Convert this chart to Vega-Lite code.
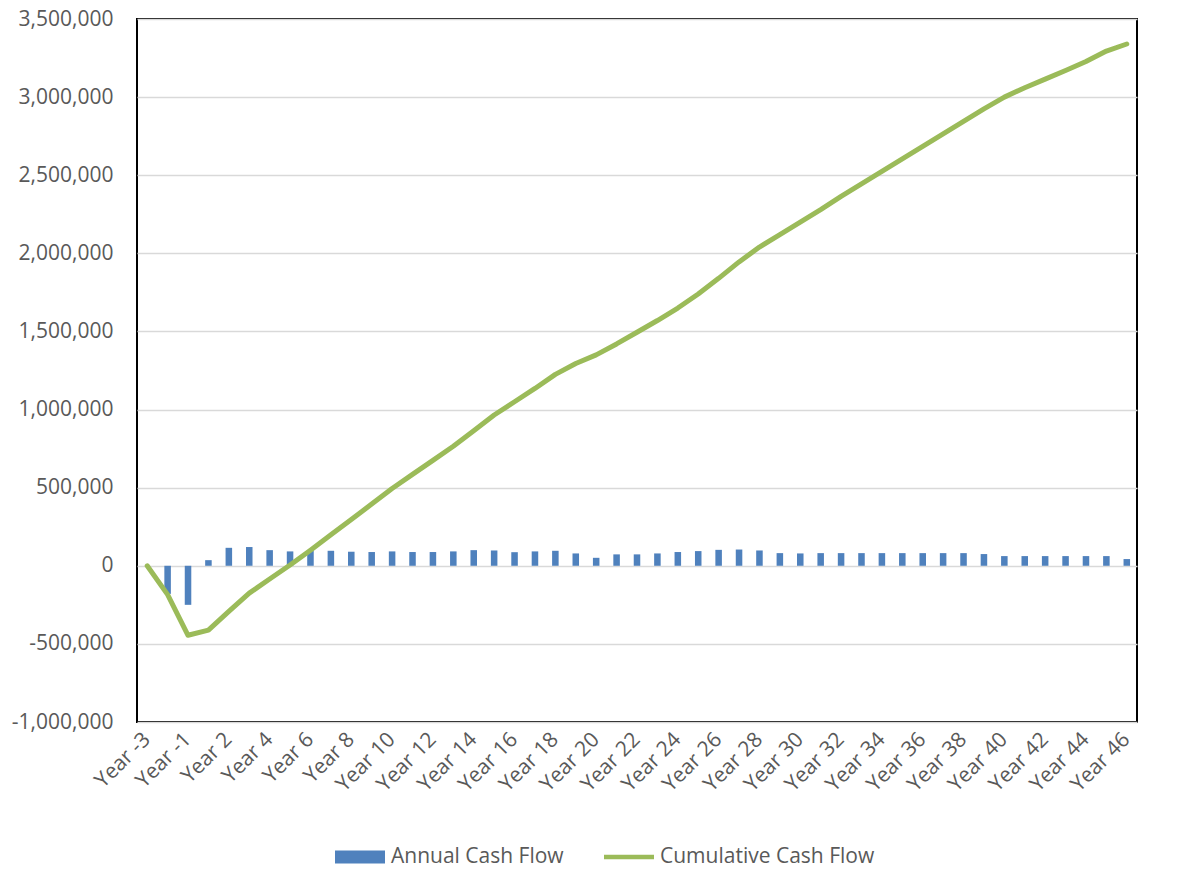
{
  "$schema": "https://vega.github.io/schema/vega-lite/v6.json",
  "autosize": "none",
  "width": 1000,
  "height": 703,
  "padding": {"left": 137, "top": 19, "right": 52, "bottom": 172},
  "background": "white",
  "config": {
    "view": {"stroke": "#000000", "strokeWidth": 2},
    "font": "Open Sans",
    "locale": {
      "number": {"decimal": ".", "thousands": ",", "grouping": [3], "currency": ["$", ""], "minus": "-"}
    }
  },
  "data": {
    "values": [
      {"year": "Year -3", "annual": 0, "cumulative": 0},
      {"year": "Year -2", "annual": -180000, "cumulative": -185000},
      {"year": "Year -1", "annual": -250000, "cumulative": -445000},
      {"year": "Year 1", "annual": 36000, "cumulative": -412000},
      {"year": "Year 2", "annual": 115000, "cumulative": -292000},
      {"year": "Year 3", "annual": 120000, "cumulative": -175000},
      {"year": "Year 4", "annual": 100000, "cumulative": -85000},
      {"year": "Year 5", "annual": 92000, "cumulative": 5000},
      {"year": "Year 6", "annual": 97000, "cumulative": 100000},
      {"year": "Year 7", "annual": 96000, "cumulative": 198000},
      {"year": "Year 8", "annual": 90000, "cumulative": 296000},
      {"year": "Year 9", "annual": 88000, "cumulative": 395000},
      {"year": "Year 10", "annual": 92000, "cumulative": 495000},
      {"year": "Year 11", "annual": 88000, "cumulative": 585000},
      {"year": "Year 12", "annual": 88000, "cumulative": 675000},
      {"year": "Year 13", "annual": 92000, "cumulative": 765000},
      {"year": "Year 14", "annual": 100000, "cumulative": 865000},
      {"year": "Year 15", "annual": 98000, "cumulative": 965000},
      {"year": "Year 16", "annual": 87000, "cumulative": 1050000},
      {"year": "Year 17", "annual": 92000, "cumulative": 1135000},
      {"year": "Year 18", "annual": 96000, "cumulative": 1225000},
      {"year": "Year 19", "annual": 79000, "cumulative": 1295000},
      {"year": "Year 20", "annual": 51000, "cumulative": 1350000},
      {"year": "Year 21", "annual": 73000, "cumulative": 1420000},
      {"year": "Year 22", "annual": 73000, "cumulative": 1495000},
      {"year": "Year 23", "annual": 79000, "cumulative": 1570000},
      {"year": "Year 24", "annual": 88000, "cumulative": 1650000},
      {"year": "Year 25", "annual": 94000, "cumulative": 1740000},
      {"year": "Year 26", "annual": 102000, "cumulative": 1840000},
      {"year": "Year 27", "annual": 104000, "cumulative": 1945000},
      {"year": "Year 28", "annual": 98000, "cumulative": 2040000},
      {"year": "Year 29", "annual": 81000, "cumulative": 2120000},
      {"year": "Year 30", "annual": 79000, "cumulative": 2200000},
      {"year": "Year 31", "annual": 81000, "cumulative": 2280000},
      {"year": "Year 32", "annual": 81000, "cumulative": 2365000},
      {"year": "Year 33", "annual": 81000, "cumulative": 2445000},
      {"year": "Year 34", "annual": 81000, "cumulative": 2525000},
      {"year": "Year 35", "annual": 81000, "cumulative": 2605000},
      {"year": "Year 36", "annual": 81000, "cumulative": 2685000},
      {"year": "Year 37", "annual": 81000, "cumulative": 2765000},
      {"year": "Year 38", "annual": 81000, "cumulative": 2845000},
      {"year": "Year 39", "annual": 75000, "cumulative": 2925000},
      {"year": "Year 40", "annual": 62000, "cumulative": 3000000},
      {"year": "Year 41", "annual": 62000, "cumulative": 3060000},
      {"year": "Year 42", "annual": 62000, "cumulative": 3115000},
      {"year": "Year 43", "annual": 62000, "cumulative": 3170000},
      {"year": "Year 44", "annual": 62000, "cumulative": 3228000},
      {"year": "Year 45", "annual": 62000, "cumulative": 3295000},
      {"year": "Year 46", "annual": 43000, "cumulative": 3340000}
    ]
  },
  "encoding": {
    "x": {
      "field": "year",
      "type": "ordinal",
      "sort": null,
      "title": null,
      "scale": {"paddingInner": 0.68, "paddingOuter": 0.34},
      "axis": {
        "values": ["Year -3", "Year -1", "Year 2", "Year 4", "Year 6", "Year 8", "Year 10", "Year 12", "Year 14", "Year 16", "Year 18", "Year 20", "Year 22", "Year 24", "Year 26", "Year 28", "Year 30", "Year 32", "Year 34", "Year 36", "Year 38", "Year 40", "Year 42", "Year 44", "Year 46"],
        "domain": false,
        "ticks": false,
        "grid": false,
        "labelAngle": -45,
        "labelAlign": "right",
        "labelBaseline": "middle",
        "labelPadding": 14,
        "labelFont": "Open Sans",
        "labelFontSize": 21,
        "labelColor": "#595959",
        "labelOverlap": false
      }
    }
  },
  "layer": [
    {
      "mark": {"type": "bar"},
      "encoding": {
        "y": {
          "field": "annual",
          "type": "quantitative",
          "title": null,
          "scale": {"domain": [-1000000, 3500000], "nice": false, "zero": false},
          "axis": {
            "values": [-1000000, -500000, 0, 500000, 1000000, 1500000, 2000000, 2500000, 3000000, 3500000],
            "format": ",.0f",
            "domain": false,
            "ticks": false,
            "grid": true,
            "gridColor": "#d9d9d9",
            "gridWidth": 1.5,
            "labelPadding": 24,
            "labelFont": "Open Sans",
            "labelFontSize": 21,
            "labelColor": "#595959"
          }
        },
        "color": {
          "datum": "Annual Cash Flow",
          "type": "nominal",
          "scale": {"domain": ["Annual Cash Flow", "Cumulative Cash Flow"], "range": ["#4F81BD", "#9BBB59"]},
          "legend": {
            "orient": "none",
            "legendX": 198,
            "legendY": 813,
            "direction": "horizontal",
            "title": null,
            "symbolSize": 2500,
            "labelFont": "Open Sans",
            "labelFontSize": 21,
            "labelColor": "#595959",
            "labelLimit": 400,
            "labelOffset": 6,
            "columnPadding": 40,
            "encode": {
              "symbols": {
                "update": {
                  "shape": {"signal": "datum.value === 'Annual Cash Flow' ? 'M-1,-0.26H1V0.26H-1Z' : 'M-1,-0.09H1V0.09H-1Z'"},
                  "fill": {"signal": "datum.value === 'Annual Cash Flow' ? '#4F81BD' : '#9BBB59'"},
                  "stroke": {"value": "transparent"},
                  "strokeWidth": {"value": 0},
                  "opacity": {"value": 1}
                }
              }
            }
          }
        }
      }
    },
    {
      "mark": {"type": "line", "strokeWidth": 5, "strokeCap": "round", "strokeJoin": "round"},
      "encoding": {
        "y": {"field": "cumulative", "type": "quantitative"},
        "color": {"datum": "Cumulative Cash Flow", "type": "nominal"}
      }
    }
  ]
}
